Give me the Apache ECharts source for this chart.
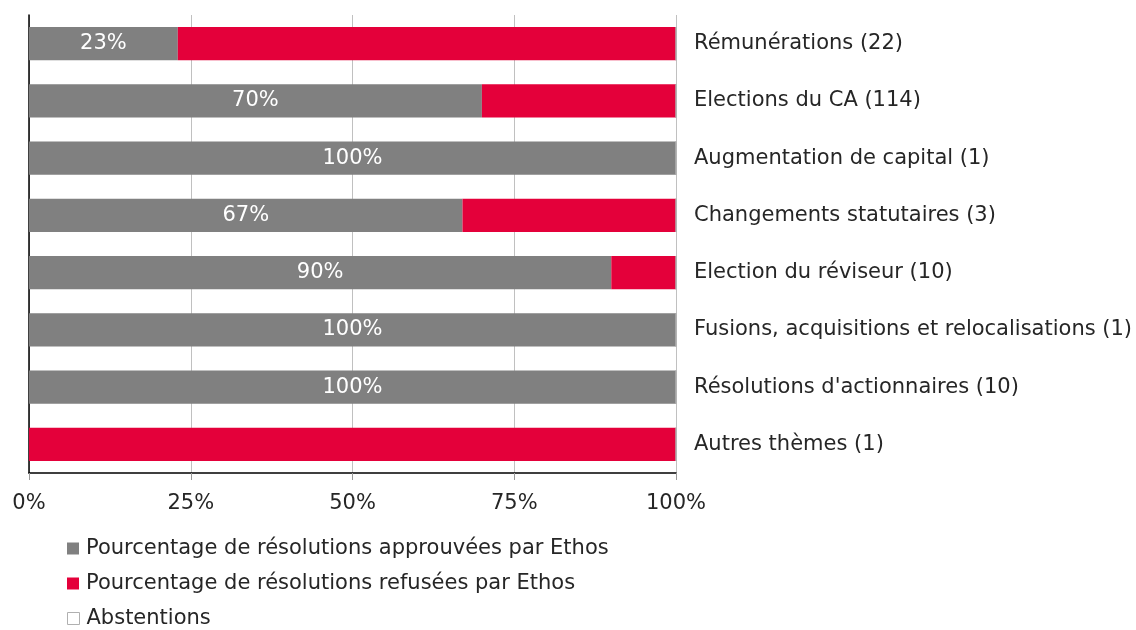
<!DOCTYPE html>
<html>
<head>
<meta charset="utf-8">
<script src="https://cdn.jsdelivr.net/npm/echarts@6/dist/echarts.min.js"></script>
<style>
  html, body { margin: 0; padding: 0; background: #fff; }
  #chart { width: 1136px; height: 630px; }
</style>
</head>
<body>
<div id="chart"></div>
<script>
const categories = [
  'Rémunérations (22)',
  'Elections du CA (114)',
  'Augmentation de capital (1)',
  'Changements statutaires (3)',
  'Election du réviseur (10)',
  'Fusions, acquisitions et relocalisations (1)',
  "Résolutions d'actionnaires (10)",
  'Autres thèmes (1)'
]
const approved = [23, 70, 100, 67, 90, 100, 100, 0]
const refused = [77, 30, 0, 33, 10, 0, 0, 100]
const abstentions = [0, 0, 0, 0, 0, 0, 0, 0]
const xTicks = [0, 25, 50, 75, 100]
const legendNames = [
  'Pourcentage de résolutions approuvées par Ethos',
  'Pourcentage de résolutions refusées par Ethos',
  'Abstentions'
]

const FONT = 'DejaVu Sans'
const TEXT = '#262626'
const FS = 21

const chart = echarts.init(document.getElementById('chart'))

// one legend per row so they stack like the original
const legendTops = [533, 568, 603]
const legendIcons = [
  { color: '#808080' },
  { color: '#e4003a' },
  { color: '#fff', borderColor: '#b0b0b0', borderWidth: 1 }
]
const legends = legendNames.map((name, i) => ({
  left: 62,
  top: legendTops[i],
  itemWidth: 12,
  itemHeight: 12,
  itemGap: 0,
  icon: 'rect',
  textStyle: { color: TEXT, fontSize: FS, fontFamily: FONT, padding: [0, 0, 0, 2] },
  data: [{ name, itemStyle: legendIcons[i] }]
}))

chart.setOption({
  animation: false,
  textStyle: { fontFamily: FONT },
  grid: { left: 29, right: 460, top: 15, bottom: 157 },
  xAxis: {
    type: 'value',
    min: xTicks[0],
    max: xTicks[xTicks.length - 1],
    interval: 25,
    axisLine: { show: true, lineStyle: { color: '#000', width: 1.5 } },
    axisTick: { show: true, length: 7, lineStyle: { color: '#999' } },
    splitLine: { show: true, lineStyle: { color: '#c0c0c0', width: 1 } },
    axisLabel: { formatter: '{value}%', color: TEXT, fontSize: FS, margin: 20 }
  },
  yAxis: [
    {
      type: 'category',
      data: categories,
      inverse: true,
      position: 'right',
      axisLine: { show: false },
      axisTick: { show: false },
      axisLabel: { color: TEXT, fontSize: FS, margin: 18, align: 'left' }
    },
    {
      type: 'category',
      data: categories,
      inverse: true,
      position: 'left',
      axisLine: { show: true, lineStyle: { color: '#000', width: 1.5 } },
      axisTick: { show: false },
      axisLabel: { show: false }
    }
  ],
  legend: legends,
  series: [
    {
      name: legendNames[0],
      type: 'bar',
      stack: 'total',
      barWidth: '58%',
      data: approved,
      itemStyle: { color: '#808080' },
      label: {
        show: true,
        position: 'inside',
        color: '#fff',
        fontSize: FS,
        formatter: p => (p.value > 0 ? p.value + '%' : '')
      }
    },
    {
      name: legendNames[1],
      type: 'bar',
      stack: 'total',
      data: refused,
      itemStyle: { color: '#e4003a' }
    },
    {
      name: legendNames[2],
      type: 'bar',
      stack: 'total',
      data: abstentions,
      itemStyle: { color: '#fff', borderColor: '#b0b0b0' }
    }
  ]
})
</script>
</body>
</html>
